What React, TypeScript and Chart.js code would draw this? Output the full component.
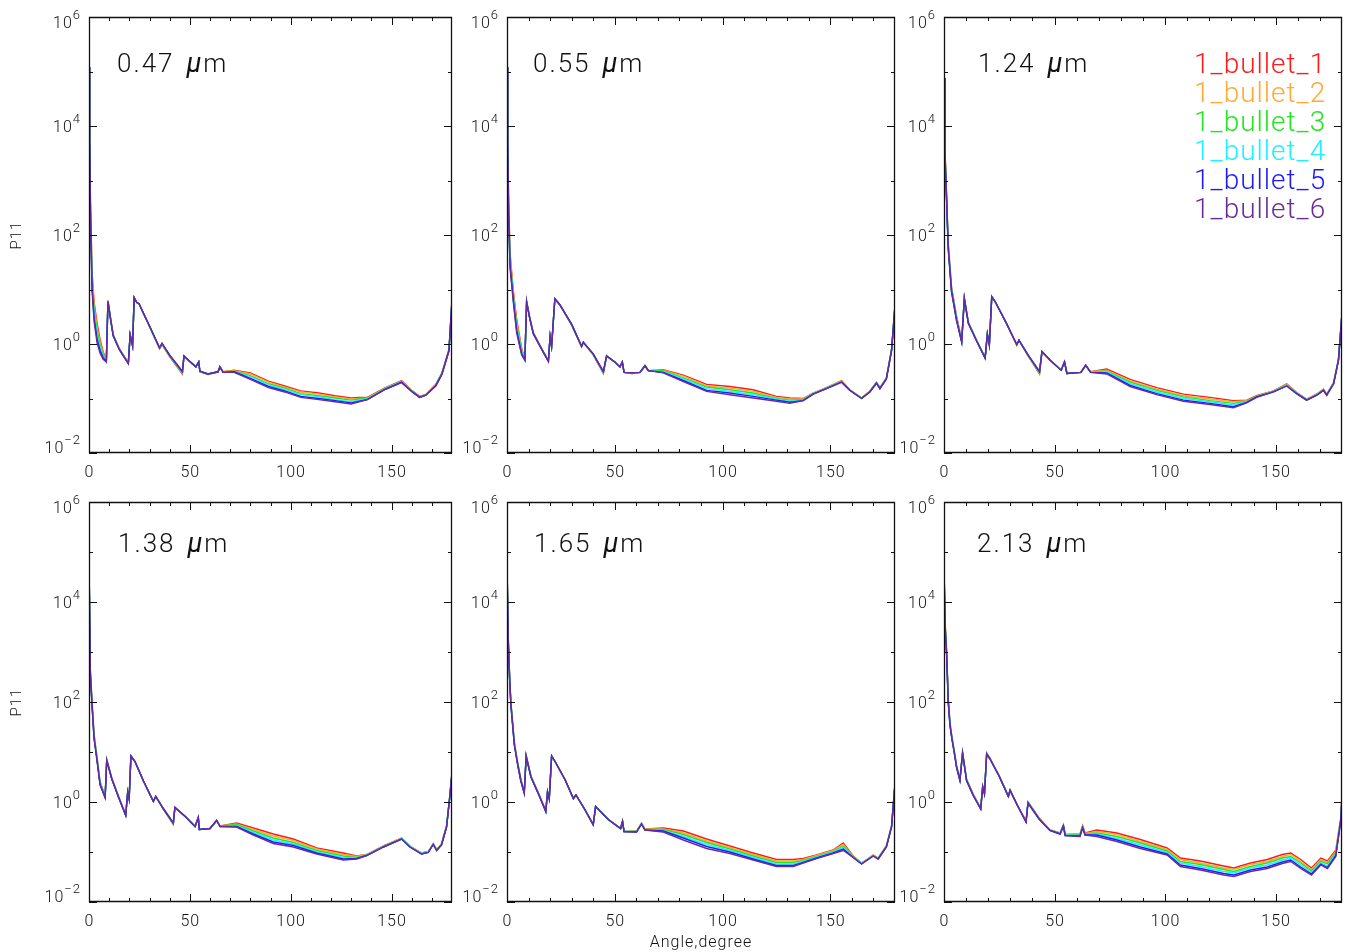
import { useEffect, useRef } from 'react';
import { Chart, registerables } from 'chart.js';

Chart.register(...registerables);

// ---------- data ----------
const SERIES_NAMES = ['1_bullet_1', '1_bullet_2', '1_bullet_3', '1_bullet_4', '1_bullet_5', '1_bullet_6'];
const SERIES_COLORS = ['#ff1a1a', '#ffaa33', '#22e622', '#1af2ff', '#1a1aff', '#6a2a9a'];
const WAVELENGTHS = ['0.47', '0.55', '1.24', '1.38', '1.65', '2.13'];

const X_MAJOR = [0, 50, 100, 150];
const X_MINOR = [10, 20, 30, 40, 60, 70, 80, 90, 110, 120, 130, 140, 160, 170];
const Y_MAJOR_EXP = [-2, 0, 2, 4, 6];
const Y_MINOR_EXP = [-1, 1, 3, 5];

// log10(P11) values
const ANGLE_047 = [0, 0.3, 0.7, 1.5, 2.5, 4, 5.5, 7, 8.6, 9.4, 10.5, 12, 15, 19.5, 20.4, 21.6, 22.4, 23.7, 24.8, 30, 35, 36.2, 40, 46.3, 47.1, 50, 53, 54.4, 55, 59, 64, 64.9, 66.5, 72, 80, 89, 97, 105, 114, 122, 130, 134, 138, 147, 155, 160, 164, 167, 172, 175, 178.5, 180];
const LOGP_047_1 = [5.08, 3.9, 2.7, 1.32, 0.78, 0.38, 0.08, -0.14, -0.3, 0.8, 0.52, 0.17, -0.08, -0.35, 0.17, -0.03, 0.85, 0.76, 0.74, 0.32, -0.09, -0.01, -0.23, -0.55, -0.22, -0.32, -0.42, -0.33, -0.51, -0.56, -0.51, -0.42, -0.51, -0.48, -0.53, -0.68, -0.77, -0.86, -0.9, -0.95, -0.99, -0.98, -0.98, -0.8, -0.67, -0.85, -0.96, -0.93, -0.74, -0.53, -0.1, 0.82];
const LOGP_047_2 = [5.08, 3.86, 2.64, 1.26, 0.71, 0.31, 0.03, -0.17, -0.31, 0.8, 0.52, 0.17, -0.08, -0.35, 0.17, -0.03, 0.85, 0.76, 0.74, 0.32, -0.09, -0.01, -0.22, -0.54, -0.22, -0.32, -0.42, -0.33, -0.51, -0.56, -0.51, -0.42, -0.51, -0.49, -0.55, -0.7, -0.79, -0.88, -0.92, -0.97, -1.01, -1.0, -0.99, -0.81, -0.68, -0.85, -0.96, -0.93, -0.75, -0.54, -0.11, 0.81];
const LOGP_047_3 = [5.08, 3.82, 2.58, 1.19, 0.64, 0.24, -0.02, -0.2, -0.31, 0.79, 0.51, 0.16, -0.09, -0.35, 0.17, -0.03, 0.85, 0.76, 0.74, 0.32, -0.08, 0.0, -0.22, -0.53, -0.22, -0.32, -0.42, -0.33, -0.51, -0.55, -0.51, -0.42, -0.51, -0.5, -0.58, -0.73, -0.81, -0.91, -0.95, -0.99, -1.03, -1.01, -1.0, -0.81, -0.69, -0.86, -0.97, -0.93, -0.75, -0.54, -0.11, 0.8];
const LOGP_047_4 = [5.08, 3.78, 2.52, 1.13, 0.56, 0.16, -0.07, -0.22, -0.32, 0.79, 0.51, 0.16, -0.09, -0.36, 0.17, -0.03, 0.85, 0.76, 0.74, 0.33, -0.08, 0.0, -0.21, -0.52, -0.22, -0.32, -0.42, -0.33, -0.5, -0.55, -0.51, -0.42, -0.52, -0.51, -0.6, -0.75, -0.84, -0.93, -0.97, -1.02, -1.06, -1.03, -1.01, -0.82, -0.69, -0.86, -0.97, -0.94, -0.76, -0.55, -0.12, 0.8];
const LOGP_047_5 = [5.08, 3.74, 2.46, 1.06, 0.49, 0.09, -0.12, -0.25, -0.32, 0.78, 0.5, 0.15, -0.1, -0.36, 0.17, -0.03, 0.85, 0.76, 0.74, 0.33, -0.07, 0.01, -0.21, -0.51, -0.22, -0.32, -0.42, -0.33, -0.5, -0.55, -0.51, -0.42, -0.52, -0.51, -0.63, -0.78, -0.86, -0.96, -1.0, -1.04, -1.08, -1.05, -1.02, -0.83, -0.7, -0.87, -0.98, -0.94, -0.76, -0.55, -0.12, 0.79];
const LOGP_047_6 = [5.08, 3.7, 2.4, 1.0, 0.42, 0.02, -0.17, -0.28, -0.33, 0.78, 0.5, 0.15, -0.1, -0.36, 0.17, -0.03, 0.85, 0.76, 0.74, 0.33, -0.07, 0.01, -0.2, -0.5, -0.22, -0.32, -0.42, -0.33, -0.5, -0.55, -0.51, -0.42, -0.52, -0.52, -0.65, -0.8, -0.88, -0.98, -1.02, -1.06, -1.1, -1.06, -1.02, -0.83, -0.71, -0.87, -0.98, -0.94, -0.77, -0.56, -0.13, 0.78];

const ANGLE_055 = [0, 0.3, 0.7, 1.4, 2.9, 4.5, 6.8, 8.3, 9.1, 10.5, 12.2, 15.3, 19.2, 20, 20.7, 22.2, 24.5, 30, 34.6, 35.4, 40, 44.7, 46.2, 50, 52.4, 53.5, 54.3, 58, 61.7, 64, 65.6, 72.5, 81.8, 92.6, 103.4, 114.2, 125, 131.2, 137.4, 142, 148.2, 155.2, 159, 164.5, 168.3, 171.4, 173, 176, 178.4, 180];
const LOGP_055_1 = [5.08, 3.9, 2.75, 1.67, 0.98, 0.45, -0.08, -0.27, 0.79, 0.5, 0.21, -0.03, -0.31, 0.14, -0.04, 0.83, 0.72, 0.35, -0.05, 0.03, -0.2, -0.54, -0.22, -0.33, -0.42, -0.33, -0.52, -0.54, -0.52, -0.4, -0.49, -0.47, -0.57, -0.74, -0.78, -0.84, -0.96, -0.99, -1.0, -0.9, -0.8, -0.67, -0.84, -0.99, -0.87, -0.7, -0.8, -0.62, -0.1, 0.72];
const LOGP_055_2 = [5.08, 3.86, 2.69, 1.62, 0.94, 0.4, -0.1, -0.28, 0.79, 0.5, 0.21, -0.03, -0.31, 0.14, -0.04, 0.83, 0.72, 0.35, -0.05, 0.03, -0.2, -0.53, -0.22, -0.33, -0.42, -0.33, -0.52, -0.54, -0.52, -0.4, -0.49, -0.48, -0.59, -0.77, -0.81, -0.87, -0.98, -1.01, -1.01, -0.9, -0.8, -0.67, -0.84, -0.99, -0.87, -0.7, -0.8, -0.62, -0.1, 0.71];
const LOGP_055_3 = [5.08, 3.82, 2.63, 1.56, 0.9, 0.35, -0.13, -0.28, 0.78, 0.49, 0.2, -0.03, -0.31, 0.14, -0.04, 0.83, 0.72, 0.35, -0.05, 0.03, -0.19, -0.52, -0.22, -0.33, -0.42, -0.33, -0.52, -0.54, -0.52, -0.4, -0.49, -0.49, -0.62, -0.79, -0.84, -0.9, -1.0, -1.03, -1.02, -0.91, -0.81, -0.68, -0.84, -0.99, -0.87, -0.71, -0.81, -0.63, -0.11, 0.7];
const LOGP_055_4 = [5.08, 3.78, 2.57, 1.51, 0.86, 0.3, -0.15, -0.29, 0.78, 0.49, 0.2, -0.04, -0.32, 0.14, -0.04, 0.83, 0.72, 0.36, -0.04, 0.03, -0.19, -0.52, -0.22, -0.33, -0.42, -0.33, -0.52, -0.53, -0.52, -0.4, -0.49, -0.51, -0.64, -0.82, -0.87, -0.93, -1.01, -1.05, -1.03, -0.91, -0.81, -0.69, -0.85, -1.0, -0.88, -0.71, -0.81, -0.63, -0.11, 0.7];
const LOGP_055_5 = [5.08, 3.74, 2.51, 1.46, 0.82, 0.25, -0.18, -0.29, 0.77, 0.48, 0.19, -0.04, -0.32, 0.14, -0.04, 0.83, 0.72, 0.36, -0.04, 0.03, -0.18, -0.51, -0.22, -0.33, -0.42, -0.33, -0.52, -0.53, -0.52, -0.4, -0.49, -0.52, -0.67, -0.85, -0.9, -0.96, -1.03, -1.07, -1.04, -0.92, -0.82, -0.7, -0.85, -1.0, -0.88, -0.72, -0.82, -0.64, -0.12, 0.69];
const LOGP_055_6 = [5.08, 3.7, 2.45, 1.4, 0.78, 0.2, -0.2, -0.3, 0.77, 0.48, 0.19, -0.04, -0.32, 0.14, -0.04, 0.83, 0.72, 0.36, -0.04, 0.03, -0.18, -0.5, -0.22, -0.33, -0.42, -0.33, -0.52, -0.53, -0.52, -0.4, -0.49, -0.53, -0.69, -0.87, -0.93, -0.99, -1.05, -1.09, -1.04, -0.92, -0.82, -0.7, -0.85, -1.0, -0.88, -0.72, -0.82, -0.64, -0.12, 0.68];

const ANGLE_124 = [0, 0.4, 1.2, 1.9, 3.4, 5.7, 8.0, 9.2, 11, 14.8, 18.6, 19.6, 20.5, 21.6, 23.1, 28, 32.9, 33.9, 38, 43.2, 44.3, 48, 53, 54.5, 55.6, 61.9, 64.1, 66.3, 73.6, 84.2, 96.2, 108.3, 120.3, 130.9, 136.9, 141.4, 149, 155, 159.5, 164, 168.6, 171.6, 173.1, 176.2, 178.4, 180];
const LOGP_124_1 = [4.88, 3.6, 2.7, 1.85, 1.05, 0.5, 0.07, 0.85, 0.4, 0.07, -0.25, 0.19, -0.01, 0.87, 0.78, 0.4, -0.02, 0.07, -0.22, -0.55, -0.14, -0.3, -0.48, -0.33, -0.54, -0.52, -0.39, -0.51, -0.46, -0.65, -0.8, -0.92, -0.98, -1.04, -1.03, -0.95, -0.86, -0.73, -0.89, -1.01, -0.92, -0.83, -0.92, -0.71, -0.28, 0.58];
const LOGP_124_2 = [4.88, 3.58, 2.68, 1.83, 1.03, 0.48, 0.06, 0.85, 0.4, 0.07, -0.25, 0.19, -0.01, 0.87, 0.78, 0.4, -0.02, 0.07, -0.22, -0.54, -0.14, -0.3, -0.48, -0.33, -0.54, -0.52, -0.39, -0.51, -0.48, -0.68, -0.83, -0.95, -1.01, -1.06, -1.04, -0.96, -0.86, -0.74, -0.89, -1.01, -0.92, -0.83, -0.92, -0.71, -0.28, 0.57];
const LOGP_124_3 = [4.88, 3.56, 2.66, 1.81, 1.01, 0.47, 0.05, 0.84, 0.39, 0.06, -0.25, 0.19, -0.01, 0.87, 0.78, 0.4, -0.02, 0.07, -0.21, -0.53, -0.14, -0.3, -0.48, -0.33, -0.54, -0.52, -0.39, -0.51, -0.5, -0.7, -0.85, -0.97, -1.04, -1.09, -1.05, -0.96, -0.87, -0.75, -0.9, -1.02, -0.93, -0.84, -0.93, -0.72, -0.29, 0.56];
const LOGP_124_4 = [4.88, 3.54, 2.64, 1.79, 0.99, 0.45, 0.05, 0.84, 0.39, 0.06, -0.26, 0.18, -0.02, 0.87, 0.78, 0.4, -0.01, 0.07, -0.21, -0.52, -0.14, -0.3, -0.48, -0.33, -0.54, -0.52, -0.39, -0.52, -0.51, -0.73, -0.88, -1.0, -1.06, -1.12, -1.06, -0.97, -0.87, -0.76, -0.9, -1.02, -0.93, -0.84, -0.93, -0.72, -0.29, 0.56];
const LOGP_124_5 = [4.88, 3.52, 2.62, 1.77, 0.97, 0.44, 0.04, 0.83, 0.38, 0.05, -0.26, 0.18, -0.02, 0.87, 0.78, 0.4, -0.01, 0.07, -0.2, -0.51, -0.14, -0.3, -0.48, -0.33, -0.54, -0.52, -0.39, -0.52, -0.53, -0.76, -0.91, -1.03, -1.09, -1.15, -1.07, -0.97, -0.88, -0.77, -0.91, -1.03, -0.94, -0.85, -0.94, -0.73, -0.3, 0.55];
const LOGP_124_6 = [4.88, 3.5, 2.6, 1.75, 0.95, 0.42, 0.03, 0.83, 0.38, 0.05, -0.26, 0.18, -0.02, 0.87, 0.78, 0.4, -0.01, 0.07, -0.2, -0.5, -0.14, -0.3, -0.48, -0.33, -0.54, -0.52, -0.39, -0.52, -0.55, -0.78, -0.93, -1.05, -1.11, -1.17, -1.08, -0.98, -0.88, -0.77, -0.91, -1.03, -0.94, -0.85, -0.94, -0.73, -0.3, 0.54];

const ANGLE_138 = [0, 0.6, 1.5, 2.5, 3.8, 5.5, 8.0, 8.8, 11.3, 14.6, 18.2, 19.2, 19.9, 20.8, 22.8, 27, 31.9, 33.1, 37, 41.8, 42.6, 48, 52.6, 54.2, 54.7, 60, 63.3, 65, 73.2, 81.5, 91.4, 101.3, 112.9, 126.1, 132.7, 137.7, 146, 155, 159.1, 164.9, 168.2, 170.7, 172.4, 174.8, 177.3, 178.9, 180];
const LOGP_138_1 = [4.87, 2.7, 2.02, 1.36, 0.95, 0.4, 0.12, 0.85, 0.48, 0.12, -0.25, 0.21, 0.07, 0.92, 0.81, 0.42, 0.01, 0.11, -0.15, -0.45, -0.11, -0.3, -0.49, -0.31, -0.55, -0.53, -0.37, -0.48, -0.42, -0.52, -0.64, -0.74, -0.92, -1.02, -1.08, -1.05, -0.88, -0.72, -0.88, -1.02, -0.99, -0.83, -0.95, -0.84, -0.48, 0.12, 0.6];
const LOGP_138_2 = [4.87, 2.68, 2.0, 1.34, 0.94, 0.39, 0.11, 0.85, 0.48, 0.12, -0.25, 0.21, 0.07, 0.92, 0.81, 0.42, 0.01, 0.11, -0.15, -0.44, -0.11, -0.3, -0.49, -0.31, -0.55, -0.53, -0.37, -0.48, -0.44, -0.55, -0.68, -0.77, -0.94, -1.05, -1.09, -1.05, -0.88, -0.72, -0.88, -1.02, -0.99, -0.83, -0.95, -0.84, -0.48, 0.12, 0.59];
const LOGP_138_3 = [4.87, 2.66, 1.98, 1.32, 0.92, 0.38, 0.1, 0.84, 0.47, 0.11, -0.26, 0.21, 0.07, 0.92, 0.81, 0.42, 0.01, 0.11, -0.15, -0.44, -0.11, -0.3, -0.49, -0.31, -0.55, -0.53, -0.37, -0.48, -0.45, -0.58, -0.72, -0.81, -0.97, -1.08, -1.11, -1.06, -0.89, -0.73, -0.89, -1.03, -1.0, -0.84, -0.96, -0.85, -0.49, 0.11, 0.58];
const LOGP_138_4 = [4.87, 2.64, 1.96, 1.3, 0.91, 0.37, 0.1, 0.84, 0.47, 0.11, -0.26, 0.2, 0.06, 0.92, 0.81, 0.42, 0.01, 0.11, -0.14, -0.43, -0.11, -0.3, -0.49, -0.31, -0.55, -0.53, -0.37, -0.49, -0.47, -0.61, -0.76, -0.84, -1.0, -1.11, -1.12, -1.06, -0.89, -0.73, -0.89, -1.03, -1.0, -0.84, -0.96, -0.85, -0.49, 0.11, 0.58];
const LOGP_138_5 = [4.87, 2.62, 1.94, 1.28, 0.89, 0.35, 0.09, 0.83, 0.46, 0.1, -0.27, 0.2, 0.06, 0.92, 0.81, 0.42, 0.01, 0.11, -0.14, -0.42, -0.11, -0.3, -0.49, -0.31, -0.55, -0.53, -0.37, -0.49, -0.49, -0.64, -0.8, -0.87, -1.02, -1.14, -1.13, -1.07, -0.9, -0.74, -0.9, -1.04, -1.01, -0.85, -0.97, -0.86, -0.5, 0.1, 0.57];
const LOGP_138_6 = [4.87, 2.6, 1.93, 1.27, 0.88, 0.34, 0.08, 0.83, 0.46, 0.1, -0.27, 0.2, 0.06, 0.92, 0.81, 0.42, 0.01, 0.11, -0.14, -0.42, -0.11, -0.3, -0.49, -0.31, -0.55, -0.53, -0.37, -0.49, -0.5, -0.66, -0.83, -0.9, -1.04, -1.16, -1.14, -1.07, -0.9, -0.74, -0.9, -1.04, -1.01, -0.85, -0.97, -0.86, -0.5, 0.1, 0.56];

const ANGLE_165 = [0, 0.5, 1.2, 1.8, 2.6, 3.4, 4.9, 6.4, 8.0, 8.9, 11.1, 14.9, 18.0, 18.8, 19.6, 20.7, 22.3, 27, 30.8, 32.0, 36, 40.0, 41.1, 47, 52.7, 53.6, 54.3, 60.1, 62.4, 64, 72.5, 81.8, 92.6, 103.4, 114.2, 125, 132.8, 137.4, 143.6, 151.3, 156, 160.6, 164.5, 169.9, 172.2, 176, 178.4, 180];
const LOGP_165_1 = [4.77, 3.4, 2.55, 2.0, 1.6, 1.2, 0.8, 0.46, 0.2, 0.93, 0.52, 0.15, -0.18, 0.21, 0.07, 0.92, 0.81, 0.44, 0.07, 0.14, -0.15, -0.46, -0.09, -0.35, -0.53, -0.38, -0.59, -0.58, -0.42, -0.54, -0.52, -0.58, -0.74, -0.88, -1.02, -1.15, -1.15, -1.13, -1.06, -0.96, -0.82, -1.08, -1.22, -1.06, -1.12, -0.88, -0.48, 0.38];
const LOGP_165_2 = [4.77, 3.38, 2.53, 1.99, 1.59, 1.19, 0.79, 0.45, 0.19, 0.93, 0.52, 0.15, -0.18, 0.21, 0.07, 0.92, 0.81, 0.44, 0.07, 0.14, -0.15, -0.46, -0.09, -0.35, -0.53, -0.38, -0.59, -0.58, -0.42, -0.54, -0.54, -0.62, -0.78, -0.91, -1.05, -1.18, -1.18, -1.15, -1.07, -0.97, -0.85, -1.09, -1.22, -1.06, -1.12, -0.88, -0.48, 0.37];
const LOGP_165_3 = [4.77, 3.36, 2.52, 1.98, 1.58, 1.18, 0.78, 0.44, 0.19, 0.92, 0.51, 0.14, -0.18, 0.21, 0.07, 0.92, 0.81, 0.44, 0.07, 0.14, -0.15, -0.46, -0.09, -0.35, -0.53, -0.38, -0.59, -0.59, -0.43, -0.55, -0.55, -0.65, -0.81, -0.94, -1.08, -1.21, -1.21, -1.17, -1.09, -0.99, -0.88, -1.09, -1.23, -1.07, -1.13, -0.89, -0.49, 0.37];
const LOGP_165_4 = [4.77, 3.34, 2.5, 1.96, 1.56, 1.16, 0.77, 0.44, 0.18, 0.92, 0.51, 0.14, -0.19, 0.2, 0.06, 0.92, 0.81, 0.44, 0.07, 0.14, -0.14, -0.45, -0.09, -0.35, -0.53, -0.39, -0.59, -0.59, -0.43, -0.55, -0.57, -0.69, -0.85, -0.97, -1.11, -1.24, -1.24, -1.19, -1.1, -1.0, -0.91, -1.1, -1.23, -1.07, -1.13, -0.89, -0.49, 0.36];
const LOGP_165_5 = [4.77, 3.32, 2.48, 1.95, 1.55, 1.15, 0.76, 0.43, 0.18, 0.91, 0.5, 0.13, -0.19, 0.2, 0.06, 0.92, 0.81, 0.44, 0.07, 0.14, -0.14, -0.45, -0.09, -0.35, -0.53, -0.39, -0.59, -0.6, -0.44, -0.56, -0.58, -0.72, -0.89, -1.0, -1.14, -1.27, -1.27, -1.21, -1.12, -1.02, -0.94, -1.11, -1.24, -1.08, -1.14, -0.9, -0.5, 0.35];
const LOGP_165_6 = [4.77, 3.3, 2.47, 1.94, 1.54, 1.14, 0.75, 0.42, 0.17, 0.91, 0.5, 0.13, -0.19, 0.2, 0.06, 0.92, 0.81, 0.44, 0.07, 0.14, -0.14, -0.45, -0.09, -0.35, -0.53, -0.39, -0.59, -0.6, -0.44, -0.56, -0.6, -0.76, -0.93, -1.03, -1.16, -1.29, -1.29, -1.22, -1.13, -1.03, -0.97, -1.11, -1.24, -1.08, -1.14, -0.9, -0.5, 0.35];

const ANGLE_213 = [0, 0.5, 1.2, 1.9, 2.7, 3.5, 5.0, 5.7, 7.2, 8.4, 10.2, 13.2, 16.6, 17.5, 18.3, 19.3, 20.8, 25, 29.1, 29.9, 33, 37.1, 38.0, 43, 47.9, 52.5, 54, 54.8, 61.5, 62.7, 63.8, 69.1, 78.2, 88.8, 100.9, 106.9, 116, 126.5, 131.1, 138.6, 146.2, 153, 156.8, 161.3, 166.2, 170.4, 173.4, 177.2, 179.5, 180];
const LOGP_213_1 = [4.67, 3.6, 3.0, 2.08, 1.6, 1.33, 0.93, 0.72, 0.46, 1.0, 0.46, 0.16, -0.12, 0.32, 0.18, 0.98, 0.88, 0.52, 0.12, 0.24, -0.05, -0.38, 0.0, -0.32, -0.56, -0.62, -0.46, -0.65, -0.64, -0.47, -0.62, -0.56, -0.62, -0.75, -0.92, -1.12, -1.18, -1.28, -1.32, -1.22, -1.15, -1.05, -1.02, -1.15, -1.32, -1.12, -1.18, -0.96, -0.3, 0.14];
const LOGP_213_2 = [4.67, 3.58, 2.99, 2.06, 1.59, 1.32, 0.92, 0.71, 0.45, 0.99, 0.45, 0.15, -0.12, 0.32, 0.18, 0.98, 0.88, 0.52, 0.12, 0.24, -0.05, -0.38, 0.0, -0.32, -0.56, -0.62, -0.46, -0.65, -0.65, -0.48, -0.63, -0.59, -0.65, -0.79, -0.95, -1.15, -1.22, -1.32, -1.35, -1.25, -1.19, -1.09, -1.05, -1.19, -1.35, -1.15, -1.21, -0.99, -0.31, 0.13];
const LOGP_213_3 = [4.67, 3.56, 2.97, 2.05, 1.57, 1.31, 0.91, 0.71, 0.45, 0.99, 0.45, 0.15, -0.13, 0.31, 0.17, 0.97, 0.87, 0.52, 0.12, 0.24, -0.05, -0.39, -0.01, -0.33, -0.56, -0.63, -0.47, -0.66, -0.66, -0.49, -0.64, -0.62, -0.69, -0.82, -0.98, -1.19, -1.25, -1.35, -1.39, -1.29, -1.22, -1.12, -1.09, -1.22, -1.38, -1.18, -1.24, -1.01, -0.32, 0.12];
const LOGP_213_4 = [4.67, 3.54, 2.96, 2.03, 1.56, 1.3, 0.9, 0.7, 0.44, 0.98, 0.44, 0.14, -0.13, 0.31, 0.17, 0.97, 0.87, 0.51, 0.11, 0.23, -0.05, -0.39, -0.01, -0.33, -0.57, -0.63, -0.47, -0.66, -0.67, -0.5, -0.65, -0.64, -0.73, -0.86, -1.01, -1.22, -1.29, -1.39, -1.42, -1.32, -1.26, -1.16, -1.12, -1.26, -1.41, -1.21, -1.28, -1.04, -0.34, 0.11];
const LOGP_213_5 = [4.67, 3.52, 2.94, 2.01, 1.54, 1.29, 0.89, 0.69, 0.43, 0.97, 0.43, 0.13, -0.14, 0.3, 0.16, 0.96, 0.86, 0.51, 0.11, 0.23, -0.05, -0.4, -0.02, -0.34, -0.57, -0.64, -0.48, -0.67, -0.68, -0.51, -0.66, -0.66, -0.76, -0.9, -1.04, -1.26, -1.33, -1.43, -1.46, -1.36, -1.3, -1.2, -1.16, -1.3, -1.44, -1.24, -1.31, -1.07, -0.35, 0.1];
const LOGP_213_6 = [4.67, 3.5, 2.93, 2.0, 1.53, 1.28, 0.89, 0.69, 0.43, 0.97, 0.43, 0.13, -0.14, 0.3, 0.16, 0.96, 0.86, 0.51, 0.11, 0.23, -0.05, -0.4, -0.02, -0.34, -0.57, -0.64, -0.48, -0.67, -0.69, -0.52, -0.66, -0.69, -0.79, -0.93, -1.06, -1.29, -1.36, -1.46, -1.49, -1.39, -1.33, -1.23, -1.19, -1.33, -1.46, -1.26, -1.33, -1.09, -0.36, 0.1];

const PANEL_ANGLES = [ANGLE_047, ANGLE_055, ANGLE_124, ANGLE_138, ANGLE_165, ANGLE_213];
const PANEL_SERIES = [
  [LOGP_047_1, LOGP_047_2, LOGP_047_3, LOGP_047_4, LOGP_047_5, LOGP_047_6],
  [LOGP_055_1, LOGP_055_2, LOGP_055_3, LOGP_055_4, LOGP_055_5, LOGP_055_6],
  [LOGP_124_1, LOGP_124_2, LOGP_124_3, LOGP_124_4, LOGP_124_5, LOGP_124_6],
  [LOGP_138_1, LOGP_138_2, LOGP_138_3, LOGP_138_4, LOGP_138_5, LOGP_138_6],
  [LOGP_165_1, LOGP_165_2, LOGP_165_3, LOGP_165_4, LOGP_165_5, LOGP_165_6],
  [LOGP_213_1, LOGP_213_2, LOGP_213_3, LOGP_213_4, LOGP_213_5, LOGP_213_6],
];

// ---------- layout ----------
const COL_LEFT = [89, 507, 944];
const COL_RIGHT = [452, 895, 1342];
const ROW_TOP = [17, 502];
const ROW_BOTTOM = [453, 902];
const LABEL_DX = [28, 26, 34, 29, 27, 33];
const ML = 88, MT = 17, MR = 8, MB = 50;

const FONT = 'Roboto, "DejaVu Sans", sans-serif';
const INK = '#111';

function setSpacing(ctx: any, s: string) {
  try { ctx.letterSpacing = s; } catch (e) { /* ignore */ }
}

function makeDecor(idx: number) {
  return {
    id: 'idlDecor' + idx,
    afterDatasetsDraw(chart: any) {
      const ctx = chart.ctx as CanvasRenderingContext2D;
      const a = chart.chartArea;
      const xs = chart.scales.x;
      const ys = chart.scales.y;
      ctx.save();
      // frame
      ctx.strokeStyle = INK;
      ctx.lineWidth = 1.3;
      ctx.beginPath();
      ctx.rect(a.left + 0.5, a.top + 0.5, a.right - a.left - 1, a.bottom - a.top - 1);
      ctx.stroke();
      // ticks
      ctx.lineWidth = 1;
      ctx.beginPath();
      const xt = (v: number, len: number) => {
        const px = Math.round(xs.getPixelForValue(v)) + 0.5;
        ctx.moveTo(px, a.bottom); ctx.lineTo(px, a.bottom - len);
        ctx.moveTo(px, a.top); ctx.lineTo(px, a.top + len);
      };
      const yt = (v: number, len: number) => {
        const py = Math.round(ys.getPixelForValue(v)) + 0.5;
        ctx.moveTo(a.left, py); ctx.lineTo(a.left + len, py);
        ctx.moveTo(a.right, py); ctx.lineTo(a.right - len, py);
      };
      X_MAJOR.forEach((v) => xt(v, 8));
      X_MINOR.forEach((v) => xt(v, 4));
      Y_MAJOR_EXP.forEach((e) => yt(Math.pow(10, e), 8));
      Y_MINOR_EXP.forEach((e) => yt(Math.pow(10, e), 4));
      ctx.stroke();

      ctx.fillStyle = INK;
      // x tick labels
      ctx.font = `300 16px ${FONT}`;
      setSpacing(ctx, '1px');
      ctx.textAlign = 'center';
      ctx.textBaseline = 'alphabetic';
      X_MAJOR.forEach((v) => {
        ctx.fillText(String(v), xs.getPixelForValue(v) + 0.5, a.bottom + 24);
      });
      // y tick labels 10^n
      ctx.textAlign = 'left';
      Y_MAJOR_EXP.forEach((e) => {
        const ty = ys.getPixelForValue(Math.pow(10, e));
        let base = ty + 6;
        if (e === 6) base = ty + 11;
        if (e === -2) base = ty + 0;
        const expStr = e < 0 ? '\u2212' + String(-e) : String(e);
        ctx.font = `300 16px ${FONT}`;
        setSpacing(ctx, '1px');
        const w10 = ctx.measureText('10').width;
        ctx.font = `300 13px ${FONT}`;
        setSpacing(ctx, '1px');
        const wE = ctx.measureText(expStr).width;
        const x0 = a.left - 8 - wE - w10;
        ctx.font = `300 16px ${FONT}`;
        setSpacing(ctx, '1px');
        ctx.fillText('10', x0, base);
        ctx.font = `300 13px ${FONT}`;
        setSpacing(ctx, '1px');
        ctx.fillText(expStr, x0 + w10, base - 9);
      });

      // wavelength label
      const ly = ys.getPixelForValue(1e5);
      let lx = a.left + LABEL_DX[idx];
      ctx.font = `300 26px ${FONT}`;
      setSpacing(ctx, '2px');
      ctx.textAlign = 'left';
      ctx.fillText(WAVELENGTHS[idx], lx, ly);
      lx += ctx.measureText(WAVELENGTHS[idx]).width + 12;
      ctx.font = `italic 400 27px ${FONT}`;
      setSpacing(ctx, '0px');
      ctx.fillText('\u03bc', lx, ly);
      lx += ctx.measureText('\u03bc').width + 2;
      ctx.font = `300 26px ${FONT}`;
      setSpacing(ctx, '2px');
      ctx.fillText('m', lx, ly);

      // legend in panel 3
      if (idx === 2) {
        ctx.font = `300 28px ${FONT}`;
        setSpacing(ctx, '1px');
        SERIES_NAMES.forEach((name, k) => {
          ctx.fillStyle = SERIES_COLORS[k];
          ctx.fillText(name, a.right - 148, a.top + 56 + 29 * k);
        });
        ctx.fillStyle = INK;
      }

      // y title on left column
      if (idx === 0 || idx === 3) {
        ctx.save();
        ctx.font = `300 15px ${FONT}`;
        setSpacing(ctx, '1px');
        ctx.translate(a.left - 72, (a.top + a.bottom) / 2);
        ctx.rotate(-Math.PI / 2);
        ctx.textAlign = 'center';
        ctx.textBaseline = 'middle';
        ctx.fillText('P11', 0, 0);
        ctx.restore();
      }
      // x title under middle bottom panel
      if (idx === 4) {
        ctx.font = `300 16px ${FONT}`;
        setSpacing(ctx, '1px');
        ctx.textAlign = 'center';
        ctx.fillText('Angle,degree', (a.left + a.right) / 2, a.bottom + 45);
      }
      ctx.restore();
    },
  };
}

function Panel({ idx }: { idx: number }) {
  const ref = useRef<HTMLCanvasElement | null>(null);
  const col = idx % 3;
  const row = Math.floor(idx / 3);
  const plotW = COL_RIGHT[col] - COL_LEFT[col];
  const plotH = ROW_BOTTOM[row] - ROW_TOP[row];
  const W = ML + plotW + MR;
  const H = MT + plotH + MB;
  const left = COL_LEFT[col] - ML;
  const top = ROW_TOP[row] - MT;

  useEffect(() => {
    if (!ref.current) return;
    const angles = PANEL_ANGLES[idx];
    const datasets = PANEL_SERIES[idx].map((logs, k) => {
      const n = Math.min(angles.length, logs.length);
      const pts = [] as { x: number; y: number }[];
      for (let i = 0; i < n; i++) pts.push({ x: angles[i], y: Math.pow(10, logs[i]) });
      return {
        label: SERIES_NAMES[k],
        data: pts,
        borderColor: SERIES_COLORS[k],
        backgroundColor: SERIES_COLORS[k],
        borderWidth: 1.4,
        pointRadius: 0,
        tension: 0,
        fill: false,
        order: 5 - k,
      };
    });
    const chart = new Chart(ref.current, {
      type: 'line',
      data: { datasets },
      options: {
        responsive: false,
        maintainAspectRatio: false,
        animation: false,
        devicePixelRatio: 1,
        events: [],
        layout: { padding: { left: ML, top: MT, right: MR, bottom: MB } },
        plugins: { legend: { display: false }, tooltip: { enabled: false }, title: { display: false } },
        scales: {
          x: { type: 'linear', display: false, min: 0, max: 180 },
          y: { type: 'logarithmic', display: false, min: 0.01, max: 1e6 },
        },
      },
      plugins: [makeDecor(idx)],
    } as any);
    return () => chart.destroy();
  }, [idx]);

  return (
    <canvas
      ref={ref}
      width={W}
      height={H}
      style={{ position: 'absolute', left, top, width: W, height: H }}
    />
  );
}

export default function App() {
  return (
    <div
      style={{
        position: 'absolute',
        left: 0,
        top: 0,
        width: 1347,
        height: 952,
        background: '#fff',
        overflow: 'hidden',
      }}
    >
      {[0, 1, 2, 3, 4, 5].map((i) => (
        <Panel key={i} idx={i} />
      ))}
    </div>
  );
}
